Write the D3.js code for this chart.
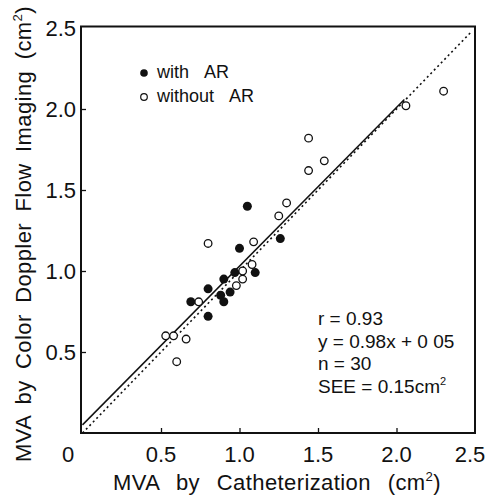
<!DOCTYPE html>
<html>
<head>
<meta charset="utf-8">
<script src="https://cdn.jsdelivr.net/npm/d3@7"></script>
<style>
  body { margin: 0; background: #fff; }
  text { font-family: "Liberation Sans", Arial, sans-serif; fill: #111; }
</style>
</head>
<body>
<div id="chart"></div>
<script>
// values (cm2)
const withArX = [1.05, 1.26, 1.00, 0.97, 1.10, 0.90, 0.80, 0.94, 0.88, 0.90, 0.69, 0.80];
const withArY = [1.40, 1.20, 1.14, 0.99, 0.99, 0.95, 0.89, 0.87, 0.85, 0.81, 0.81, 0.72];
const withoutArX = [1.44, 1.54, 1.44, 2.30, 2.06, 1.30, 1.25, 1.09, 0.80, 1.08, 1.02, 1.02, 0.98, 0.74, 0.53, 0.58, 0.66, 0.60];
const withoutArY = [1.82, 1.68, 1.62, 2.11, 2.02, 1.42, 1.34, 1.18, 1.17, 1.04, 1.00, 0.95, 0.91, 0.81, 0.60, 0.60, 0.58, 0.44];
const xTicks = [0.5, 1.0, 1.5, 2.0, 2.5];
const yTicks = [0.5, 1.0, 1.5, 2.0, 2.5];
const legendLabels = ["with\u2002 AR", "without\u2002 AR"];
const statLines = ["r = 0.93", "y = 0.98x + 0 05", "n = 30", "SEE = 0.15cm\u00b2"];
const slope = 0.98, intercept = 0.05, fitEnd = 2.05;

const width = 492, height = 495;
const svg = d3.select("#chart").append("svg")
  .attr("width", width)
  .attr("height", height);

const x = d3.scaleLinear().domain([0, 2.5]).range([82.5, 475]);
const y = d3.scaleLinear().domain([0, 2.5]).range([433, 28]);

// frame
svg.append("rect")
  .attr("x", x(0) - 1.5).attr("y", y(2.5) - 1.5)
  .attr("width", x(2.5) - x(0) + 1.5).attr("height", y(0) - y(2.5) + 1.5)
  .attr("fill", "none").attr("stroke", "#111").attr("stroke-width", 2);

// inward ticks
const xAxis = svg.append("g").attr("transform", `translate(0,${y(0)})`)
  .call(d3.axisTop(x).tickValues(xTicks.slice(0, 4)).tickSize(5).tickFormat(""));
const yAxis = svg.append("g").attr("transform", `translate(${x(0) - 1.5},0)`)
  .call(d3.axisRight(y).tickValues(yTicks.slice(0, 4)).tickSize(5).tickFormat(""));
[xAxis, yAxis].forEach(g => {
  g.select(".domain").remove();
  g.selectAll("line").attr("stroke", "#111").attr("stroke-width", 1.3);
});

// tick labels
svg.append("g").selectAll("text").data(xTicks).join("text")
  .attr("x", d => d === 2.5 ? x(d) - 5 : x(d)).attr("y", 462)
  .attr("text-anchor", "middle").attr("font-size", 22)
  .text(d => d.toFixed(1));
svg.append("g").selectAll("text").data(yTicks).join("text")
  .attr("x", 76).attr("y", d => y(d) + 8)
  .attr("text-anchor", "end").attr("font-size", 22)
  .text(d => d.toFixed(1));
svg.append("text").attr("x", 68).attr("y", 462)
  .attr("text-anchor", "middle").attr("font-size", 22).text("0");

// axis titles: spread the word gaps so each title spans its length in the original
function title(sel, label, size, span) {
  sel.attr("font-size", size).attr("letter-spacing", 0.4);
  sel.append("tspan").text(label);
  sel.append("tspan").attr("font-size", size * 0.6).attr("dy", -size * 0.4).text("2");
  sel.append("tspan").attr("dy", size * 0.4).text(")");
  const gaps = label.split(" ").length - 1;
  const len = sel.node().getComputedTextLength();
  sel.attr("word-spacing", Math.max(0, (span - len) / gaps));
}
title(svg.append("text").attr("x", 113).attr("y", 490),
  "MVA by Catheterization (cm", 22, 328);
title(svg.append("text").attr("transform", "translate(31,462) rotate(-90)"),
  "MVA by Color Doppler Flow Imaging (cm", 22, 456);

// identity line (dotted) and regression line (solid)
svg.append("line")
  .attr("x1", x(0)).attr("y1", y(0)).attr("x2", x(2.48)).attr("y2", y(2.48))
  .attr("stroke", "#111").attr("stroke-width", 1.6).attr("stroke-dasharray", "2,3");
svg.append("line")
  .attr("x1", x(0)).attr("y1", y(intercept))
  .attr("x2", x(fitEnd)).attr("y2", y(slope * fitEnd + intercept))
  .attr("stroke", "#111").attr("stroke-width", 1.5);

// points
svg.append("g").selectAll("circle").data(d3.range(withoutArX.length)).join("circle")
  .attr("cx", i => x(withoutArX[i])).attr("cy", i => y(withoutArY[i]))
  .attr("r", 3.8).attr("fill", "#fff").attr("stroke", "#111").attr("stroke-width", 1.3);
svg.append("g").selectAll("circle").data(d3.range(withArX.length)).join("circle")
  .attr("cx", i => x(withArX[i])).attr("cy", i => y(withArY[i]))
  .attr("r", 4.5).attr("fill", "#111");

// legend
const leg = svg.append("g");
leg.append("circle").attr("cx", 144).attr("cy", 73).attr("r", 3.8).attr("fill", "#111");
leg.append("circle").attr("cx", 144).attr("cy", 97).attr("r", 3.3)
  .attr("fill", "#fff").attr("stroke", "#111").attr("stroke-width", 1.2);
leg.selectAll("text").data(legendLabels).join("text")
  .attr("x", 157).attr("y", (d, i) => 78 + i * 24)
  .attr("font-size", 18).attr("word-spacing", 2).text(d => d);

// stats
const st = svg.append("g").selectAll("text").data(statLines).join("text")
  .attr("x", 318).attr("y", (d, i) => 325 + i * 22.7)
  .attr("font-size", 19);
st.each(function(d) {
  const t = d3.select(this);
  if (d.endsWith("\u00b2")) {
    t.append("tspan").text(d.slice(0, -1));
    t.append("tspan").attr("font-size", 11).attr("dy", -8).text("2");
  } else {
    t.text(d);
  }
});
</script>
</body>
</html>
